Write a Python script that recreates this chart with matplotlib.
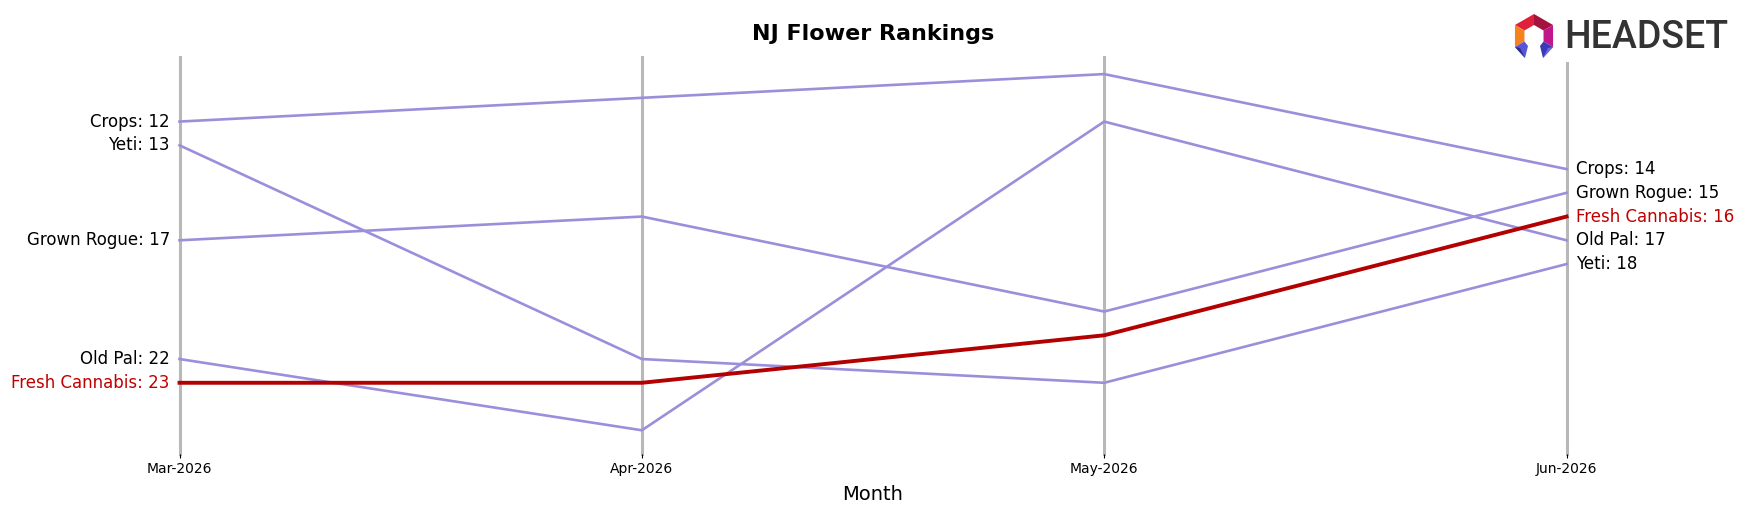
import matplotlib.pyplot as plt
from matplotlib.patches import Polygon
import numpy as np

months = ["Mar-2026", "Apr-2026", "May-2026", "Jun-2026"]
brands = ["Crops", "Yeti", "Grown Rogue", "Old Pal", "Fresh Cannabis"]
crops = [12, 11, 10, 14]
yeti = [13, 22, 23, 18]
grown_rogue = [17, 16, 20, 15]
old_pal = [22, 25, 12, 17]
fresh_cannabis = [23, 23, 21, 16]
ranks = [crops, yeti, grown_rogue, old_pal, fresh_cannabis]
highlight = "Fresh Cannabis"

purple = "#9b8fdb"
red = "#b30000"
label_red = "#c00000"

fig = plt.figure(figsize=(17.48, 5.07), dpi=100)
ax = fig.add_axes([0.1027, 0.1045, 0.7935, 0.7831])

x = np.arange(len(months))
for xi in x:
    ax.axvline(xi, color="#b8b8b8", lw=2.2, zorder=1, clip_on=False)

for name, r in zip(brands, ranks):
    if name == highlight:
        ax.plot(x, r, color=red, lw=2.8, zorder=3, clip_on=False)
    else:
        ax.plot(x, r, color=purple, lw=1.9, zorder=2, clip_on=False)

for name, r in zip(brands, ranks):
    c = label_red if name == highlight else "black"
    ax.annotate(f"{name}: {r[0]}", xy=(0, r[0]), xytext=(-7, 0), textcoords="offset points",
                ha="right", va="center", fontsize=12, color=c)
    ax.annotate(f"{name}: {r[-1]}", xy=(x[-1], r[-1]), xytext=(7, 0), textcoords="offset points",
                ha="left", va="center", fontsize=12, color=c)

ax.set_xlim(0, 3)
ax.set_ylim(26.0, 9.28)
ax.set_xticks(x)
ax.set_xticklabels(months, fontsize=10)
ax.tick_params(axis="x", length=3, pad=3)
ax.set_yticks([])
for s in ax.spines.values():
    s.set_visible(False)
ax.set_xlabel("Month", fontsize=14, labelpad=6)
ax.set_title("NJ Flower Rankings", fontsize=16, fontweight="bold", pad=12)

# logo
lax = fig.add_axes([1500 / 1748, 1 - 62 / 507, 248 / 1748, 52 / 507])
lax.set_xlim(1500, 1748)
lax.set_ylim(62, 10)
lax.axis("off")
lax.add_patch(plt.Rectangle((1500, 10), 248, 52, color="white", zorder=0))
cx, cy = 1534, 36
def pt(a, rad):
    return (cx + rad * np.cos(np.radians(a)) * 22, cy - rad * np.sin(np.radians(a)) * 22)
segs = [
    (90, 150, "#e0203a"),
    (30, 90, "#a5123e"),
    (150, 210, "#f58220"),
    (-30, 30, "#c0188c"),
]
for a0, a1, col in segs:
    lax.add_patch(Polygon([pt(a0, 1), pt(a1, 1), pt(a1, 0.5), pt(a0, 0.5)], color=col, lw=0))
lax.add_patch(Polygon([pt(210, 1), pt(210, 0.5), (cx - 6, cy + 10), (cx - 9, cy + 22)], color="#5656d8", lw=0))
lax.add_patch(Polygon([pt(210, 1), (cx - 9, cy + 22), (cx - 14, cy + 12)], color="#2b2e8c", lw=0))
lax.add_patch(Polygon([pt(-30, 1), pt(-30, 0.5), (cx + 6, cy + 10), (cx + 9, cy + 22)], color="#3a3ab8", lw=0))
lax.add_patch(Polygon([pt(-30, 1), (cx + 9, cy + 22), (cx + 14, cy + 12)], color="#6a6ae6", lw=0))
lax.text(1564, 38, "HEADSET", fontsize=27, color="#333333", va="center", ha="left",
         family="Roboto", fontweight="medium")

fig.savefig("out.png", dpi=100)
